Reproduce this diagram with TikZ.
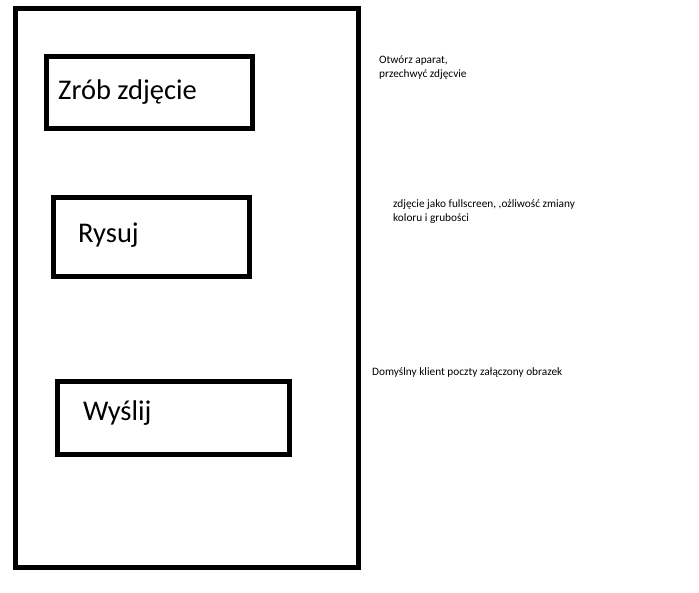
\documentclass[tikz,border=0pt]{standalone}
\usepackage{fontspec}
\setmainfont{Carlito}
\newfontfamily\bigfont{Carlito}
\begin{document}
\begin{tikzpicture}[x=1pt,y=-1pt,
  frame/.style={draw=black,line width=5pt,inner sep=0pt,minimum width=0pt},
  bigtext/.style={anchor=base west,inner sep=0pt,font=\bigfont\fontsize{28.5}{32}\selectfont},
  note/.style={anchor=base west,inner sep=0pt,align=left,font=\fontsize{11.3}{13.5}\selectfont}]
\useasboundingbox[fill=white] (0,0) rectangle (699,592);
\draw[line width=5pt] (15.5,8.5) rectangle (358.5,567);
\node[frame,minimum width=205.5pt,minimum height=72.5pt] (b1) at ({(46.5+252)/2},{(56+128.5)/2}) {};
\node[frame,minimum width=195.5pt,minimum height=78.5pt] (b2) at ({(53.5+249)/2},{(197.5+276)/2}) {};
\node[frame,minimum width=231.5pt,minimum height=72.5pt] (b3) at ({(57.5+289)/2},{(381.5+454)/2}) {};
\node[bigtext] (t1) at (58,99.5) {Zrób zdjęcie};
\node[bigtext] (t2) at (78,242) {Rysuj};
\node[bigtext] (t3) at (83,420) {Wyślij};
\node[note] (n1) at (379,77) {Otwórz aparat,\\przechwyć zdjęcvie};
\node[note] (n2) at (393,221) {zdjęcie jako fullscreen, ,ożliwość zmiany\\koloru i grubości};
\node[note] (n3) at (372,375) {Domyślny klient poczty załączony obrazek};
\end{tikzpicture}
\end{document}
